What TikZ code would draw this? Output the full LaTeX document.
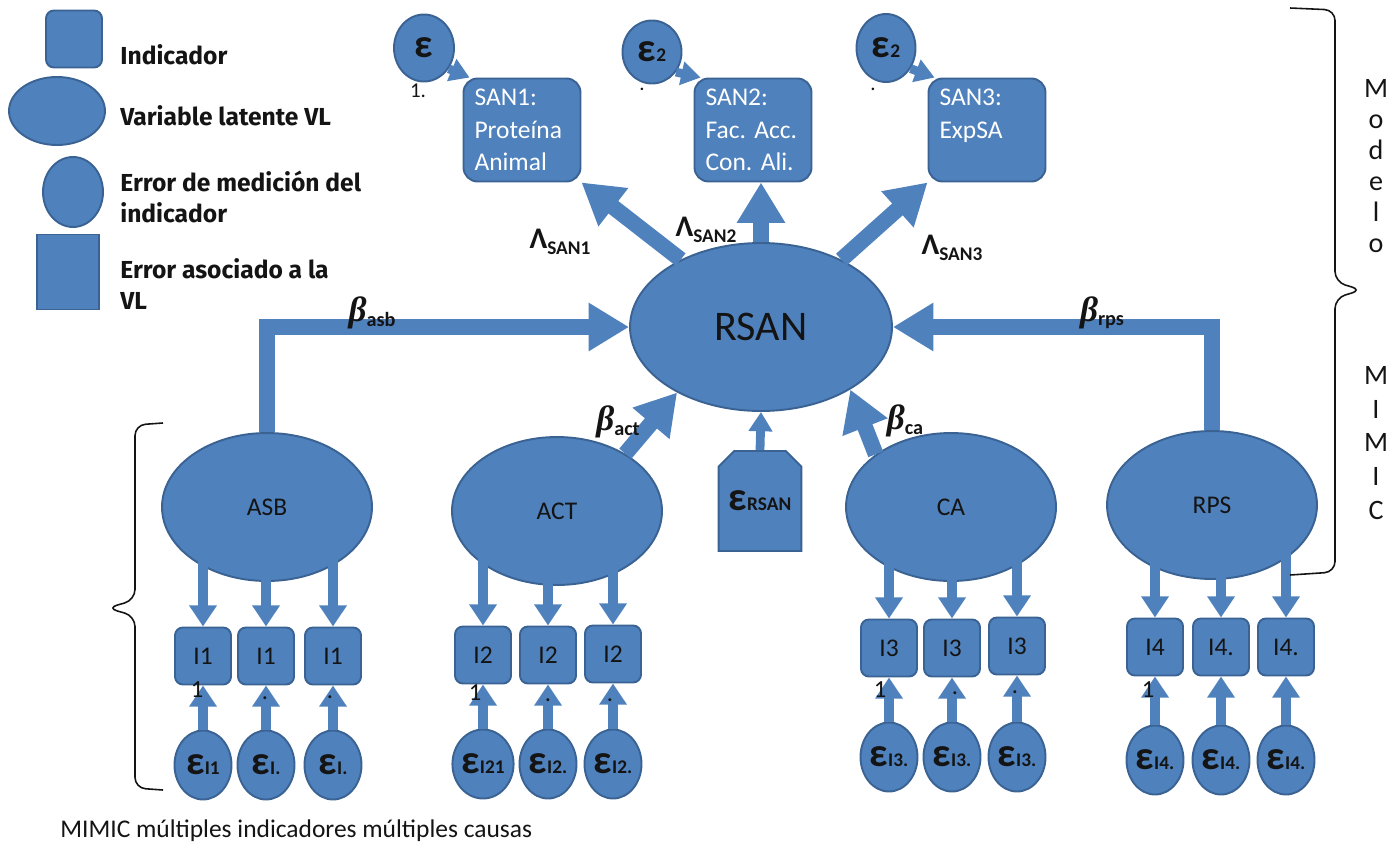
\documentclass[tikz,border=0pt]{standalone}
\usepackage{amsmath}
\usepackage{fontspec}
\setmainfont{Carlito}
\newfontfamily\legfont{Fira Sans}
\newfontfamily\grkserif{Liberation Serif}
\usetikzlibrary{calc,positioning,arrows.meta,shapes.geometric,shapes.misc}
\definecolor{semBlue}{HTML}{4F81BD}
\definecolor{semEdge}{HTML}{3A6394}
\definecolor{semInk}{HTML}{141414}

\newcommand{\errlab}[1]{{\fontsize{23}{23}\selectfont\bfseries ε}{\fontsize{11}{11}\selectfont\bfseries #1}}
\newcommand{\blab}[1]{{\grkserif\bfseries\itshape\fontsize{20}{20}\selectfont β}\raisebox{-2.5pt}{\fontsize{11.5}{11.5}\selectfont\bfseries #1}}
\newcommand{\llab}[1]{{\fontsize{17}{17}\selectfont\bfseries Λ}\raisebox{-3pt}{\fontsize{11}{11}\selectfont\bfseries #1}}

\begin{document}
\frenchspacing
\begin{tikzpicture}[
  x=0.02cm, y=-0.02cm,
  every node/.style={text=semInk},
  ind/.style={rectangle, rounded corners=4.5pt, draw=semEdge, fill=semBlue, line width=1.1pt,
              minimum width=1.12cm, minimum height=1.14cm, inner sep=0pt, font=\fontsize{14.5}{16}\selectfont},
  san/.style={rectangle, rounded corners=8pt, draw=semEdge, fill=semBlue, line width=1.1pt,
              minimum width=2.34cm, minimum height=2.06cm, inner sep=0pt, text width=1.9cm, align=left,
              text=white, font=\fontsize{14.5}{18.5}\selectfont},
  lat/.style={ellipse, draw=semEdge, fill=semBlue, line width=1.1pt,
              minimum width=4.2cm, minimum height=2.96cm, inner sep=0pt, font=\fontsize{14.5}{16}\selectfont},
  err/.style={ellipse, draw=semEdge, fill=semBlue, line width=1.1pt,
              minimum width=1.14cm, minimum height=1.38cm, inner sep=0pt},
  evl/.style={chamfered rectangle, chamfered rectangle corners={north west,north east},
              chamfered rectangle xsep=0.24cm, draw=semEdge, fill=semBlue, line width=1.1pt,
              minimum width=1.62cm, minimum height=2.0cm, inner sep=0pt},
  big/.style={draw=semBlue, line width=9pt, -{Triangle[width=26pt,length=23pt]}},
  mid/.style={draw=semBlue, line width=6pt, -{Triangle[width=15pt,length=12pt]}},
  sm/.style={draw=semBlue, line width=5pt, -{Triangle[width=13pt,length=11pt]}},
  leg/.style={anchor=west, align=left, inner sep=0pt, font=\legfont\bfseries\fontsize{14}{17.6}\selectfont},
  lbl/.style={inner sep=0pt},
  frag/.style={inner sep=0pt, font=\fontsize{14}{14}\selectfont},
  side/.style={align=center, inner sep=0pt, font=\fontsize{16}{17.6}\selectfont},
  brk/.style={draw=semInk, line width=0.9pt, rounded corners=6pt}
]
\useasboundingbox (0,0) rectangle (1398,848);

% legend
\node[ind] (kInd) at (74,39) {};
\node[lat, minimum width=1.92cm, minimum height=1.36cm] (kLat) at (57,111) {};
\node[err, minimum width=1.2cm, minimum height=1.4cm] (kErr) at (73,192) {};
\node[evl, minimum width=1.24cm, minimum height=1.5cm, chamfered rectangle xsep=0.2cm] (kEvl) at (68,272) {};
\node[leg] (tInd) at (120,55) {Indicador};
\node[leg] (tLat) at (120,116) {Variable latente VL};
\node[leg] (tErr) at (120,197) {Error de medición del\\indicador};
\node[leg] (tEvl) at (120,284) {Error asociado a la\\VL};

% top indicators of RSAN
\node[err, minimum width=1.2cm, minimum height=1.34cm] (e1) at (424,48) {\errlab{}};
\node[err, minimum width=1.18cm, minimum height=1.26cm] (e2) at (652,52) {\errlab{2}};
\node[err, minimum width=1.18cm, minimum height=1.36cm] (e3) at (886,48) {\errlab{2}};
\node[frag, font=\fontsize{12}{12}\selectfont] (f1) at (418,91) {1.};
\node[frag, font=\fontsize{12}{12}\selectfont] (f2) at (642,89) {.};
\node[frag, font=\fontsize{12}{12}\selectfont] (f3) at (873,89) {.};
\node[san] (san1) at (522,130) {SAN1:\\Proteína\\Animal};
\node[san] (san2) at (753,130) {SAN2:\\Fac.\ Acc.\\Con.\ Ali.};
\node[san] (san3) at (987,130) {SAN3:\\ExpSA\\\mbox{}};

% latent variables
\node[lat, minimum width=5.24cm, minimum height=3.36cm, font=\fontsize{24}{28}\selectfont] (rsan) at (761,327) {RSAN};
\node[evl] (ersan) at (760,501) {\errlab{RSAN}};
\node[lat] (asb) at (267,507) {ASB};
\node[lat] (act) at (557,511) {ACT};
\node[lat] (ca) at (951,507) {CA};
\node[lat] (rps) at (1212,505) {RPS};

% indicators
\node[ind] (i11) at (203,656) {I1};
\node[ind] (i12) at (266,656) {I1};
\node[ind] (i13) at (333,656) {I1};
\node[ind] (i21) at (483,655) {I2};
\node[ind] (i22) at (548,655) {I2};
\node[ind] (i23) at (613,654) {I2};
\node[ind] (i31) at (889,648) {I3};
\node[ind] (i32) at (952,648) {I3};
\node[ind] (i33) at (1017,646) {I3};
\node[ind] (i41) at (1155,647) {I4};
\node[ind] (i42) at (1221,647) {I4.};
\node[ind] (i43) at (1286,647) {I4.};

% measurement errors
\node[err] (e11) at (203,765) {\errlab{I1}};
\node[err] (e12) at (266,765) {\errlab{I.}};
\node[err] (e13) at (333,765) {\errlab{I.}};
\node[err] (e21) at (483,764) {\errlab{I21}};
\node[err] (e22) at (548,764) {\errlab{I2.}};
\node[err] (e23) at (613,764) {\errlab{I2.}};
\node[err] (e31) at (889,757) {\errlab{I3.}};
\node[err] (e32) at (952,757) {\errlab{I3.}};
\node[err] (e33) at (1017,757) {\errlab{I3.}};
\node[err] (e41) at (1155,760) {\errlab{I4.}};
\node[err] (e42) at (1221,760) {\errlab{I4.}};
\node[err] (e43) at (1286,760) {\errlab{I4.}};

% arrows
\draw[sm] (e1.-40) -- (san1.135);
\draw[sm] (e2.-40) -- (san2.135);
\draw[sm] (e3.-40) -- (san3.135);
\draw[big] (rsan.140) -- (san1.south east);
\draw[big] (rsan.north) -- (rsan.north |- san2.south);
\draw[big] (rsan.40) -- (san3.south west);
\draw[big] (asb.north) |- (rsan.west);
\draw[big] (rps.north) |- (rsan.east);
\draw[big] (act.40) -- (rsan.218);
\draw[big] (ca.145) -- (rsan.325);
\draw[sm] (ersan.north) -- (rsan.south);

\draw[mid] ($(i11 |- asb.center)+(0,30)$) -- (i11.north);
\draw[mid] ($(i12 |- asb.center)+(0,30)$) -- (i12.north);
\draw[mid] ($(i13 |- asb.center)+(0,30)$) -- (i13.north);
\draw[mid] ($(i21 |- act.center)+(0,30)$) -- (i21.north);
\draw[mid] ($(i22 |- act.center)+(0,30)$) -- (i22.north);
\draw[mid] ($(i23 |- act.center)+(0,30)$) -- (i23.north);
\draw[mid] ($(i31 |- ca.center)+(0,30)$) -- (i31.north);
\draw[mid] ($(i32 |- ca.center)+(0,30)$) -- (i32.north);
\draw[mid] ($(i33 |- ca.center)+(0,30)$) -- (i33.north);
\draw[mid] ($(i41 |- rps.center)+(0,30)$) -- (i41.north);
\draw[mid] ($(i42 |- rps.center)+(0,30)$) -- (i42.north);
\draw[mid] ($(i43 |- rps.center)+(0,30)$) -- (i43.north);

\draw[mid] (e11.north) -- (i11.south);
\draw[mid] (e12.north) -- (i12.south);
\draw[mid] (e13.north) -- (i13.south);
\draw[mid] (e21.north) -- (i21.south);
\draw[mid] (e22.north) -- (i22.south);
\draw[mid] (e23.north) -- (i23.south);
\draw[mid] (e31.north) -- (i31.south);
\draw[mid] (e32.north) -- (i32.south);
\draw[mid] (e33.north) -- (i33.south);
\draw[mid] (e41.north) -- (i41.south);
\draw[mid] (e42.north) -- (i42.south);
\draw[mid] (e43.north) -- (i43.south);

% wrapped label fragments
\node[frag] (g11) at (197,690) {1};
\node[frag] (g12) at (265,698) {.};
\node[frag] (g13) at (330,697) {.};
\node[frag] (g21) at (475,693) {1};
\node[frag] (g22) at (548,700) {.};
\node[frag] (g23) at (610,700) {.};
\node[frag] (g31) at (880,690) {1};
\node[frag] (g32) at (955,693) {.};
\node[frag] (g33) at (1015,692) {.};
\node[frag] (g41) at (1148,690) {1};

% coefficients
\node[lbl] (lSan1) at (560,242) {\llab{SAN1}};
\node[lbl] (lSan2) at (706,230) {\llab{SAN2}};
\node[lbl] (lSan3) at (952,248) {\llab{SAN3}};
\node[lbl] (bAsb) at (372,313) {\blab{asb}};
\node[lbl] (bRps) at (1102,313) {\blab{rps}};
\node[lbl] (bAct) at (618,422) {\blab{act}};
\node[lbl] (bCa) at (905,421) {\blab{ca}};

% braces
\draw[brk] (163,423) -- (135,425) -- (135,600) -- (107,608) -- (135,616) -- (135,788) -- (163,790);
\draw[brk] (1290,8) -- (1335,10) -- (1335,282) -- (1362,290) -- (1335,298) -- (1335,572) -- (1290,575);
\node[side] (modelo) at (1376,166) {M\\o\\d\\e\\l\\o};
\node[side, font=\fontsize{16}{19.3}\selectfont] (mimic) at (1376,443) {M\\I\\M\\I\\C};

\node[anchor=west, inner sep=0pt, font=\fontsize{14.5}{16}\selectfont] (caption) at (60,831)
  {MIMIC múltiples indicadores múltiples causas};
\end{tikzpicture}
\end{document}
